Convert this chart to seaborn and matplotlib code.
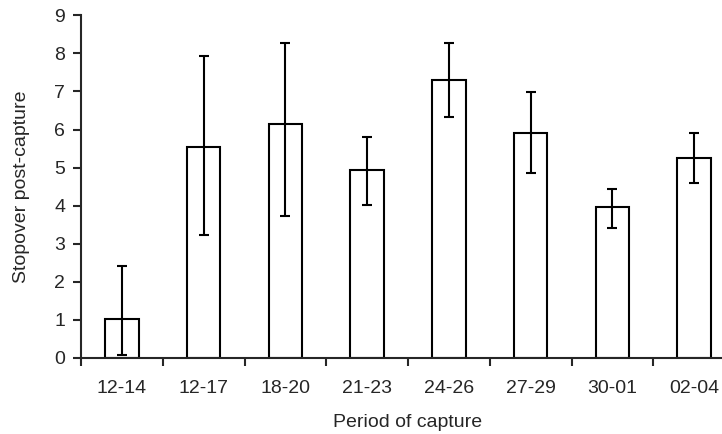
import numpy as np
import pandas as pd
import matplotlib
matplotlib.use("Agg")
import matplotlib.pyplot as plt
import seaborn as sns

# Data
periods = ["12-14", "12-17", "18-20", "21-23", "24-26", "27-29", "30-01", "02-04"]
stopover = [1.03, 5.53, 6.14, 4.93, 7.30, 5.90, 3.97, 5.25]
err_upper = [2.42, 7.93, 8.28, 5.80, 8.27, 6.99, 4.44, 5.91]
err_lower = [0.07, 3.22, 3.73, 4.03, 6.34, 4.87, 3.42, 4.60]

df = pd.DataFrame({"Period": periods, "Stopover": stopover})

sns.set_style("ticks")
plt.rcParams["font.family"] = ["Liberation Sans", "DejaVu Sans"]

fig = plt.figure(figsize=(7.22, 4.34), dpi=100)
ax = fig.add_axes([81 / 722, 76 / 434, 654 / 722, 342.7 / 434])

sns.barplot(data=df, x="Period", y="Stopover", color="white", edgecolor="black",
            linewidth=1.5, width=0.41, errorbar=None, ax=ax)

means = np.array(stopover)
yerr = np.vstack([means - np.array(err_lower), np.array(err_upper) - means])
ax.errorbar(np.arange(len(periods)), means, yerr=yerr, fmt="none",
            ecolor="black", elinewidth=1.5, capsize=3.5, capthick=1.5)

ax.set_xlim(-0.5, len(periods) - 0.5)
ax.set_ylim(0, 9)
ax.set_yticks(range(0, 10))
ax.set_xticks(np.arange(len(periods)))
ax.set_xticks(np.arange(-0.5, len(periods), 1.0), minor=True)
ax.tick_params(axis="x", which="major", length=0, pad=16, labelsize=14)
ax.tick_params(axis="x", which="minor", length=6, width=1.5, direction="out")
ax.tick_params(axis="y", length=6, width=1.5, direction="out", labelsize=14, pad=5.5)

sns.despine(ax=ax)
ax.spines["left"].set_linewidth(1.5)
ax.spines["bottom"].set_linewidth(1.5)

ax.set_xlabel("Period of capture", fontsize=14, labelpad=12)
ax.set_ylabel("Stopover post-capture", fontsize=14, labelpad=17)

fig.savefig("out.png", dpi=100)
